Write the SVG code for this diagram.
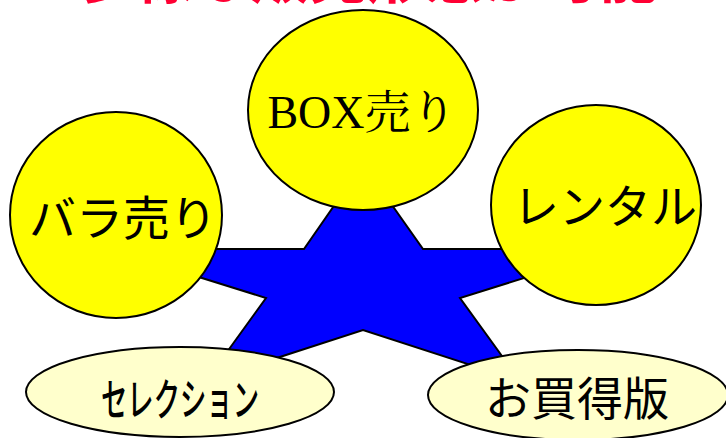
<svg xmlns="http://www.w3.org/2000/svg" width="726" height="438" viewBox="0 0 726 438">
<style>
.big{fill:#ffff00;stroke:#000;stroke-width:2}
.small{fill:#ffffcc;stroke:#000;stroke-width:2}
.g{font-family:"Noto Sans CJK JP","Noto Sans",sans-serif;fill:#000;text-anchor:middle}
.title{font-family:"Noto Sans CJK JP",sans-serif;font-weight:bold;fill:#ff0033}
</style>
<rect width="726" height="438" fill="#fff"/>
<text class="title" x="77" y="-2" font-size="58" textLength="580" lengthAdjust="spacingAndGlyphs">多様な販売形態が可能</text>
<g id="connectors">
<polygon id="star" points="363,164 423,249 617,249 460,298 520,381 363,330 206,381 266,298 109,249 304,249" fill="#0000ff" stroke="#000" stroke-width="2" stroke-linejoin="miter"/>
</g>
<g id="box">
<ellipse class="big" cx="363" cy="110" rx="115" ry="100"/>
<text x="362" y="128" font-size="46" text-anchor="middle" font-family="'Liberation Serif','Noto Serif CJK JP','Noto Sans CJK JP',serif">BOX売り</text>
</g>
<g id="bara">
<ellipse class="big" cx="116" cy="215" rx="106" ry="103"/>
<text class="g" x="123" y="235" font-size="47">バラ売り</text>
</g>
<g id="rental">
<ellipse class="big" cx="596" cy="205" rx="105" ry="100"/>
<text class="g" x="605" y="223" font-size="46">レンタル</text>
</g>
<g id="selection">
<ellipse class="small" cx="180" cy="392" rx="154" ry="45"/>
<text class="g" x="180" y="416" font-size="44" font-weight="500" textLength="158" lengthAdjust="spacingAndGlyphs">セレクション</text>
</g>
<g id="okaidoku">
<ellipse class="small" cx="578" cy="395" rx="150" ry="45"/>
<text class="g" x="577" y="415" font-size="46">お買得版</text>
</g>
</svg>
